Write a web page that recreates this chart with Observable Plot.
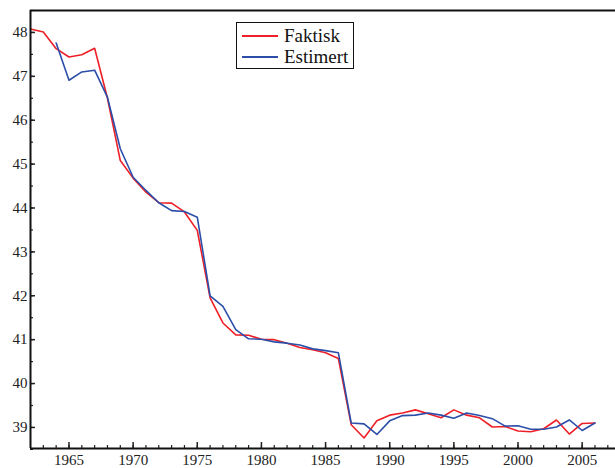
<!DOCTYPE html>
<html>
<head>
<meta charset="utf-8">
<script src="https://cdn.jsdelivr.net/npm/d3@7"></script>
<script src="https://cdn.jsdelivr.net/npm/@observablehq/plot@0.6"></script>
<style>
  html, body { margin: 0; padding: 0; background: #fff; }
  #wrap { position: relative; width: 615px; height: 468px; }
  #wrap svg text { font-family: "Liberation Serif", "Times New Roman", Times, "DejaVu Serif", serif !important; }
  #legend {
    position: absolute; left: 236px; top: 22px; width: 116px; height: 45px;
    border: 1.5px solid #111; background: #fff;
    font-family: "Liberation Serif", "Times New Roman", Times, "DejaVu Serif", serif; font-size: 19px; color: #111;
  }
  #legend .row { position: absolute; left: 0; height: 20px; display: flex; align-items: center; }
  #legend .sw { width: 36px; height: 0; border-top: 2px solid; margin-left: 5px; margin-right: 6px; }
</style>
</head>
<body>
<div id="wrap"></div>
<script>
const years = [1962,1963,1964,1965,1966,1967,1968,1969,1970,1971,1972,1973,1974,1975,1976,1977,1978,1979,1980,1981,1982,1983,1984,1985,1986,1987,1988,1989,1990,1991,1992,1993,1994,1995,1996,1997,1998,1999,2000,2001,2002,2003,2004,2005,2006];
const faktisk = [48.08,48.01,47.63,47.44,47.49,47.64,46.50,45.08,44.68,44.36,44.12,44.11,43.91,43.49,41.95,41.38,41.11,41.10,41.01,41.00,40.92,40.82,40.77,40.70,40.57,39.06,38.76,39.15,39.28,39.33,39.40,39.31,39.22,39.40,39.28,39.22,39.01,39.02,38.92,38.90,38.97,39.17,38.85,39.09,39.10];
const estimert = [null,null,47.76,46.91,47.10,47.14,46.52,45.35,44.70,44.40,44.12,43.94,43.92,43.79,42.00,41.76,41.23,41.02,41.01,40.95,40.92,40.88,40.79,40.75,40.70,39.10,39.08,38.84,39.15,39.27,39.28,39.33,39.28,39.21,39.33,39.27,39.20,39.03,39.04,38.96,38.96,39.01,39.17,38.93,39.10];
const seriesNames = ["Faktisk", "Estimert"];
const seriesColors = ["#ee1f26", "#2b4ea9"];
const xTicks = [1965,1970,1975,1980,1985,1990,1995,2000,2005];
const xMinor = d3.range(1963, 2008);
const yTicks = [39,40,41,42,43,44,45,46,47,48];
const yMinor = d3.range(38.5, 48.51, 0.5);
const xDomain = [1962, 2007.6];
const yDomain = [38.52, 48.5];

const rows = [];
years.forEach((y, i) => {
  rows.push({year: y, value: faktisk[i], series: seriesNames[0]});
});
years.forEach((y, i) => {
  if (estimert[i] != null) rows.push({year: y, value: estimert[i], series: seriesNames[1]});
});

const chart = Plot.plot({
  width: 615,
  height: 468,
  marginLeft: 30,
  marginTop: 10,
  marginBottom: 20,
  marginRight: 0,
  style: {fontFamily: "'Liberation Serif', 'Times New Roman', serif", fontSize: "15px", color: "#222", background: "#fff"},
  x: {domain: xDomain, label: null},
  y: {domain: yDomain, label: null},
  color: {domain: seriesNames, range: seriesColors},
  marks: [
    Plot.axisX({ticks: xTicks, tickFormat: d => String(d), tickSize: 0, tickPadding: 6, fontSize: 15, label: null}),
    Plot.axisX({ticks: xTicks, tickSize: -6, text: null, strokeWidth: 1.5, label: null}),
    Plot.axisX({ticks: xMinor, tickSize: -3, text: null, strokeWidth: 1.2, label: null}),
    Plot.axisY({ticks: yTicks, tickSize: 0, tickPadding: 3, fontSize: 15, label: null}),
    Plot.axisY({ticks: yTicks, tickSize: -5, text: null, strokeWidth: 1.5, label: null}),
    Plot.axisY({ticks: yMinor, tickSize: -3, text: null, strokeWidth: 1.2, label: null}),
    Plot.line(rows, {x: "year", y: "value", stroke: "series", z: "series", strokeWidth: 1.6}),
    Plot.ruleX([xDomain[0]], {stroke: "#111", strokeWidth: 2}),
    Plot.ruleY([yDomain[0]], {stroke: "#111", strokeWidth: 2}),
    Plot.ruleY([yDomain[1]], {stroke: "#111", strokeWidth: 2})
  ]
});
const wrap = document.getElementById("wrap");
wrap.appendChild(chart);

const legend = document.createElement("div");
legend.id = "legend";
seriesNames.forEach((name, i) => {
  const row = document.createElement("div");
  row.className = "row";
  row.style.top = (3 + i * 21) + "px";
  const sw = document.createElement("span");
  sw.className = "sw";
  sw.style.borderTopColor = seriesColors[i];
  const tx = document.createElement("span");
  tx.textContent = name;
  row.appendChild(sw);
  row.appendChild(tx);
  legend.appendChild(row);
});
wrap.appendChild(legend);
</script>
</body>
</html>
